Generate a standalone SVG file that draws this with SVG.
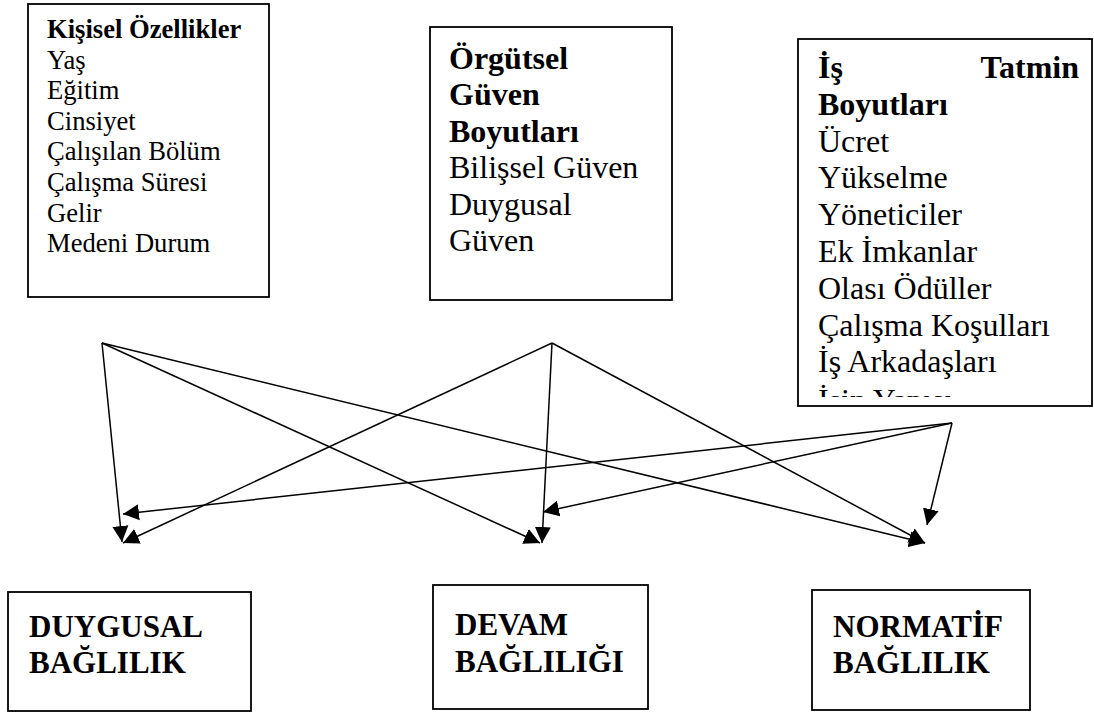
<svg xmlns="http://www.w3.org/2000/svg" width="1094" height="716" viewBox="0 0 1094 716">
  <style>
    .box { fill: #ffffff; stroke: #000000; stroke-width: 1.8; }
    .t { font-family: "Liberation Serif", "Times New Roman", serif; fill: #000000; }
    .b { font-weight: bold; }
    .s1 { font-size: 26.6px; }
    .s2 { font-size: 32px; }
    .s3 { font-size: 31px; }
    .link { stroke: #000000; stroke-width: 1.5; fill: none; marker-end: url(#head); }
  </style>
  <defs>
    <marker id="head" markerUnits="userSpaceOnUse" markerWidth="17" markerHeight="17" viewBox="0 0 17 17" refX="16" refY="8.5" orient="auto">
      <path d="M0,0.5 L16,8.5 L0,16.5 Z" fill="#000000"/>
    </marker>
    <clipPath id="clip-is">
      <rect x="798" y="39" width="294" height="358"/>
    </clipPath>
  </defs>

  <!-- personal characteristics -->
  <g id="kisisel">
    <rect class="box" x="28" y="4" width="241" height="293"/>
    <text class="t s1" x="47">
      <tspan class="b" x="47" y="38">Kişisel Özellikler</tspan>
      <tspan x="47" y="68.6">Yaş</tspan>
      <tspan x="47" y="99.2">Eğitim</tspan>
      <tspan x="47" y="129.8">Cinsiyet</tspan>
      <tspan x="47" y="160.4">Çalışılan Bölüm</tspan>
      <tspan x="47" y="191">Çalışma Süresi</tspan>
      <tspan x="47" y="221.6">Gelir</tspan>
      <tspan x="47" y="252.2">Medeni Durum</tspan>
    </text>
  </g>

  <!-- organisational trust -->
  <g id="orgutsel">
    <rect class="box" x="430" y="27" width="242" height="273"/>
    <text class="t s2" x="449">
      <tspan class="b" x="449" y="69">Örgütsel</tspan>
      <tspan class="b" x="449" y="105.4">Güven</tspan>
      <tspan class="b" x="449" y="141.8">Boyutları</tspan>
      <tspan x="449" y="178.2">Bilişsel Güven</tspan>
      <tspan x="449" y="214.6">Duygusal</tspan>
      <tspan x="449" y="251">Güven</tspan>
    </text>
  </g>

  <!-- job satisfaction; the last line is cut off by the box -->
  <g id="is-tatmin">
    <rect class="box" x="798" y="39" width="294" height="367"/>
    <g clip-path="url(#clip-is)">
      <text class="t s2 b" x="818" y="78">İş</text>
      <text class="t s2 b" x="1079" y="78" text-anchor="end">Tatmin</text>
      <text class="t s2" x="818">
        <tspan class="b" x="818" y="114.8">Boyutları</tspan>
        <tspan x="818" y="151.6">Ücret</tspan>
        <tspan x="818" y="188.4">Yükselme</tspan>
        <tspan x="818" y="225.2">Yöneticiler</tspan>
        <tspan x="818" y="262">Ek İmkanlar</tspan>
        <tspan x="818" y="298.8">Olası Ödüller</tspan>
        <tspan x="818" y="335.6">Çalışma Koşulları</tspan>
        <tspan x="818" y="372.4">İş Arkadaşları</tspan>
        <tspan x="818" y="411">İşin Yapısı</tspan>
      </text>
    </g>
  </g>

  <!-- outcome boxes -->
  <g id="duygusal">
    <rect class="box" x="8" y="592" width="243" height="119"/>
    <text class="t s3 b" x="29">
      <tspan x="29" y="637">DUYGUSAL</tspan>
      <tspan x="29" y="673">BAĞLILIK</tspan>
    </text>
  </g>
  <g id="devam">
    <rect class="box" x="433" y="585" width="215" height="124"/>
    <text class="t s3 b" x="455">
      <tspan x="455" y="635">DEVAM</tspan>
      <tspan x="455" y="672">BAĞLILIĞI</tspan>
    </text>
  </g>
  <g id="normatif">
    <rect class="box" x="812" y="590" width="218" height="120"/>
    <text class="t s3 b" x="833">
      <tspan x="833" y="637">NORMATİF</tspan>
      <tspan x="833" y="673">BAĞLILIK</tspan>
    </text>
  </g>

  <!-- connectors -->
  <g id="connectors">
    <line class="link" x1="102" y1="343" x2="122" y2="542"/>
    <line class="link" x1="102" y1="343" x2="540" y2="543"/>
    <line class="link" x1="102" y1="343" x2="925" y2="543"/>
    <line class="link" x1="552" y1="343" x2="123" y2="543"/>
    <line class="link" x1="552" y1="343" x2="542" y2="543"/>
    <line class="link" x1="552" y1="343" x2="925" y2="543"/>
    <line class="link" x1="952" y1="423" x2="123" y2="514"/>
    <line class="link" x1="952" y1="423" x2="543" y2="512"/>
    <line class="link" x1="952" y1="423" x2="927" y2="525"/>
  </g>
</svg>
